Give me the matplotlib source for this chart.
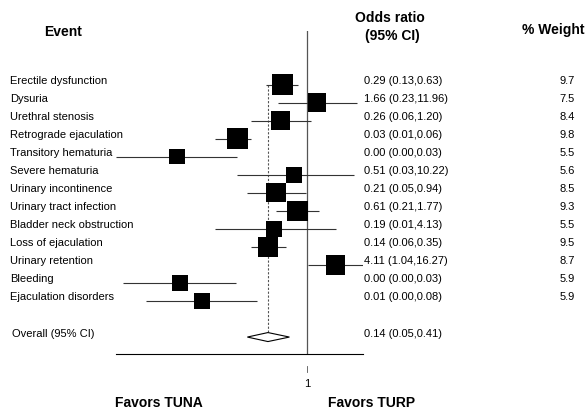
import numpy as np
import matplotlib
matplotlib.use("Agg")
import matplotlib.pyplot as plt
from matplotlib import transforms

plt.rcParams['font.family'] = ['Liberation Sans', 'DejaVu Sans']

# data (odds ratios, 95% CI, % weight)
events = ["Erectile dysfunction", "Dysuria", "Urethral stenosis",
          "Retrograde ejaculation", "Transitory hematuria", "Severe hematuria",
          "Urinary incontinence", "Urinary tract infection",
          "Bladder neck obstruction", "Loss of ejaculation",
          "Urinary retention", "Bleeding", "Ejaculation disorders"]
odds = [0.29, 1.66, 0.26, 0.03, 0.0015, 0.51, 0.21, 0.61, 0.19, 0.14, 4.11, 0.00175, 0.0051]
ci_low = [0.13, 0.23, 0.06, 0.01, 0.00007, 0.03, 0.05, 0.21, 0.01, 0.06, 1.04, 0.0001, 0.00032]
ci_high = [0.63, 11.96, 1.20, 0.06, 0.03, 10.22, 0.94, 1.77, 4.13, 0.35, 16.27, 0.029, 0.082]
weights = [9.7, 7.5, 8.4, 9.8, 5.5, 5.6, 8.5, 9.3, 5.5, 9.5, 8.7, 5.9, 5.9]
overall = (0.14, 0.05, 0.41)

W, H = 588, 410
fig = plt.figure(figsize=(W / 100, H / 100), dpi=100)

# plot area: x from 116 to 363 px, y from 32 to 355 px
ax = fig.add_axes([116 / W, (H - 355) / H, 247 / W, 323 / H])
ax.set_xscale('log')
ax.set_xlim(min(ci_low), max(ci_high))
step = 18.04
ax.set_ylim((355 - 85.5) / step, (32 - 85.5) / step)
rows = np.arange(len(events))
overall_row = 14.0

for s in ['top', 'left', 'right']:
    ax.spines[s].set_visible(False)
ax.spines['bottom'].set_linewidth(0.8)
ax.set_yticks([])
ax.set_xticks([1])
ax.set_xticklabels(['1'], fontsize=8)
ax.minorticks_off()
ax.tick_params(axis='x', length=0, pad=17)
ax.plot([1, 1], [15.6, 15.95], color='#555555', lw=0.6, clip_on=False)

ax.axvline(1, color='#555555', lw=0.9)
dh = 4.5 / step
ax.vlines(overall[0], 0, overall_row - dh, colors='#555555', lw=0.8,
          linestyles=(0, (2, 1.5)))

ax.hlines(rows, ci_low, ci_high, colors='#333333', lw=0.8)
side_pt = 0.72 * 6.65 * np.sqrt(weights)
ax.scatter(odds, rows, marker='s', s=side_pt ** 2, color='black', linewidths=0, zorder=3)

ov, lo, hi = overall
ax.fill([lo, ov, hi, ov], [overall_row, overall_row - dh, overall_row, overall_row + dh],
        facecolor='white', edgecolor='black', lw=0.8, zorder=3)

# text columns, aligned to rows
base = transforms.blended_transform_factory(fig.transFigure, ax.transData)
tr = transforms.offset_copy(base, fig, y=4.5 * 0.72, units='points')
for i, name in enumerate(events):
    fig.text(10 / W, i, name, transform=tr, fontsize=8, va='center', ha='left')
    fig.text(364 / W, i, "%.2f (%.2f,%.2f)" % (odds[i], ci_low[i], ci_high[i]),
             transform=tr, fontsize=8, va='center', ha='left')
    fig.text(575 / W, i, "%.1f" % weights[i], transform=tr, fontsize=8,
             va='center', ha='right')
fig.text(12 / W, overall_row, "Overall (95% CI)", transform=tr, fontsize=8,
         va='center', ha='left')
fig.text(364 / W, overall_row, "%.2f (%.2f,%.2f)" % overall, transform=tr,
         fontsize=8, va='center', ha='left')

# headers
def px(x, y):
    return x / W, 1 - y / H

fig.text(*px(63, 32), "Event", fontsize=10, fontweight='bold', ha='center', va='center')
fig.text(*px(390, 18), "Odds ratio", fontsize=10, fontweight='bold', ha='center', va='center')
fig.text(*px(392, 36), "(95% CI)", fontsize=10, fontweight='bold', ha='center', va='center')
fig.text(*px(522, 30), "% Weight", fontsize=10, fontweight='bold', ha='left', va='center')
fig.text(*px(115, 403), "Favors TUNA", fontsize=10, fontweight='bold', ha='left', va='center')
fig.text(*px(328, 403), "Favors TURP", fontsize=10, fontweight='bold', ha='left', va='center')

fig.savefig("out.png", dpi=100)
